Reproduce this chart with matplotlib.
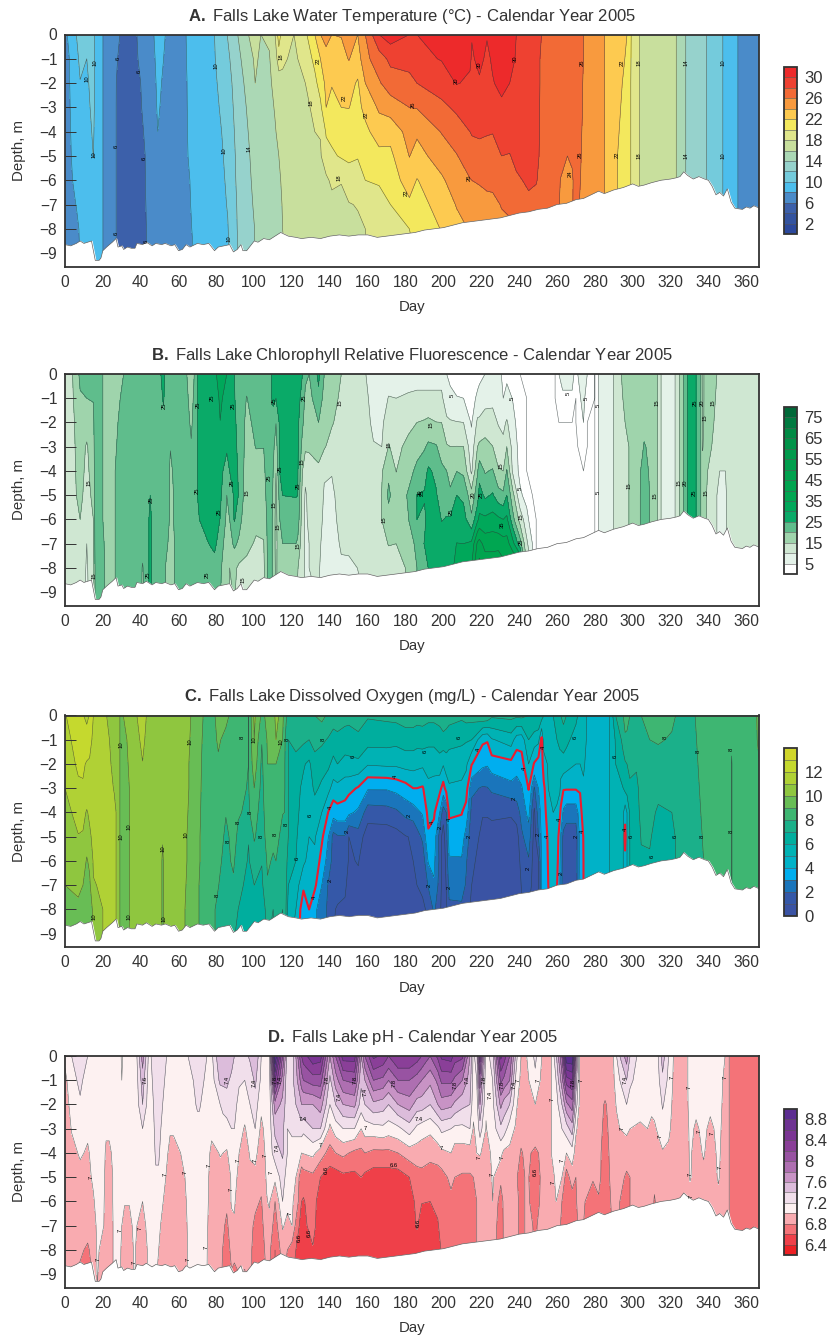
import matplotlib
matplotlib.use('Agg')
import matplotlib.pyplot as plt
import numpy as np

plt.rcParams['font.family'] = ['Liberation Sans', 'DejaVu Sans']
plt.rcParams['mathtext.fontset'] = 'custom'
plt.rcParams['mathtext.bf'] = 'Liberation Sans:bold'
plt.rcParams['mathtext.rm'] = 'Liberation Sans'
plt.rcParams['axes.unicode_minus'] = True

W, H = 828, 1335
depths = [0, -1, -2, -3, -4, -5, -6, -7, -8, -9.6]

# lake bottom
bottom_days = [0,3,6,8,10,12,14,15,16,18,19,20,22,25,27,28,30,31,33,35,37,38,41,43,46,48,51,53,56,58,60,62,64,66,70,73,76,78,79,81,84,87,89,91,93,94,96,98,100,102,105,108,112,114,118,122,125,130,135,140,145,150,155,160,165,170,175,180,185,190,195,200,205,210,215,220,225,230,235,240,245,250,255,260,265,270,274,278,282,285,290,295,300,303,306,310,315,320,323,325,327,329,332,335,338,340,342,344,346,348,350,352,354,358,360,362,364,367]
bottom_depth = [-8.65,-8.7,-8.6,-8.5,-8.6,-8.55,-8.5,-8.9,-9.3,-9.3,-9.2,-8.9,-8.75,-8.55,-8.4,-8.75,-8.7,-8.85,-8.75,-8.8,-8.8,-8.6,-8.65,-8.55,-8.7,-8.6,-8.65,-8.6,-8.7,-8.65,-8.9,-8.85,-8.65,-8.75,-8.6,-8.65,-8.6,-8.8,-8.9,-8.75,-8.7,-8.65,-8.95,-8.85,-8.65,-8.9,-8.9,-8.7,-8.5,-8.55,-8.4,-8.45,-8.25,-8.15,-8.3,-8.35,-8.4,-8.35,-8.4,-8.3,-8.25,-8.3,-8.25,-8.25,-8.35,-8.3,-8.25,-8.2,-8.15,-8.05,-8.0,-7.95,-7.85,-7.75,-7.7,-7.65,-7.6,-7.55,-7.45,-7.35,-7.3,-7.2,-7.15,-7.0,-6.95,-6.8,-6.75,-6.6,-6.45,-6.55,-6.4,-6.3,-6.15,-6.25,-6.2,-6.1,-6.0,-5.95,-5.9,-5.85,-5.65,-5.8,-5.95,-5.85,-5.95,-6.0,-6.25,-6.6,-6.5,-6.65,-6.35,-6.9,-7.15,-7.2,-7.1,-7.15,-7.05,-7.15]

# A. temperature, one row per day, surface to bottom
temp_days = [0,6,8,11.5,15,16,20,27,29,38,43,47,49,53,64,67,79,86,91,97,100.5,103.5,108,111,113,115,121,127,132,135,138,141,146,150,154.7,158.7,166,172,182,186,199,207,214,215,219,223,226,230.7,235,238.5,245,249,251,260,262,265.5,268,270,274,285,292,297,299,303.5,323,328,339,347.6,355.5,367]
temp_values = [
[7.5,7,7,7,7,7,7,7,7,7],
[10,9.6,9.4,9.2,9,8.8,8.5,8.05,7.6,7.5],
[10.6,10.3,9.95,9.6,9.4,9.2,9,8.6,8.2,8],
[11,10,9.7,9.5,9.4,9.3,9.1,8.8,8.4,8.2],
[11,10.9,10.7,10.5,10.2,10.02,9.7,9.3,8.8,8.5],
[9.5]*10,
[8.01]*10,
[6.4,6.2,6.02,6.01,6.01,6.01,6.01,6.01,6.01,6.01],
[6,5.7,5.6,5.5,5.5,5.5,5.5,5.5,5.5,5.5],
[6,5.9,5.6,5.5,5.3,5.3,5.2,5.1,5,5],
[7,6.8,6.6,6.5,6.3,6.1,6.1,6.05,6,5.9],
[8,7.7,7.5,7.4,7.3,7.2,7.1,7,7,7],
[9,8.7,8.4,8.2,8,7.7,7.5,7.4,7.3,7.3],
[8,7.8,7.6,7.5,7.4,7.4,7.4,7.3,7.3,7.3],
[8,7.95,7.9,7.9,7.9,7.9,7.8,7.8,7.7,7.7],
[8.8,8.7,8.5,8.4,8.3,8.2,8.1,8.05,8,7.9],
[10,9.9,9.7,9.5,9.3,9.2,9.1,9,8.9,8.8],
[12.1,11.6,11.2,10.9,10.6,10.4,10.25,10.1,9.9,9.7],
[13.9,13.4,13,12.8,12.6,12.4,12.3,12.1,12,11.9],
[16,15.2,14.7,14.3,14.05,13.8,13.6,13.3,13,12.8],
[16.6,16.3,16,15.4,15,14.8,14.6,14.4,14.1,14],
[16,15.7,15.4,15.2,15,14.9,14.8,14.7,14.6,14.5],
[16.2,15.9,15.7,15.6,15.4,15.2,15,14.9,14.8,14.7],
[18,17,16.5,16.1,15.9,15.8,15.6,15.4,15.1,15],
[21,19,17,16.6,16.3,16,15.8,15.5,15.2,15],
[19,18.3,17.6,17,16.7,16.4,16.2,16.1,16,15.9],
[18,17.6,17.3,17,16.9,16.8,16.6,16.5,16.4,16.3],
[19.6,18.8,18,17.5,17.1,16.9,16.7,16.6,16.5,16.4],
[22,20.5,19.5,18.5,18,17.3,17,16.8,16.7,16.6],
[24,22,20.8,19.6,18.1,17.8,17.3,17,16.9,16.8],
[24.5,23.5,22.5,22,20.2,19.3,17.6,17.2,17,16.9],
[24,23.2,22.1,21.5,20.5,19.7,18.4,17.4,17.1,17],
[24.1,23.3,22.8,22,21,20.2,18.1,17.5,17.2,17.1],
[25.2,24.1,22.6,22.05,21,20.4,19,17.9,17.4,17.3],
[24,23,21.8,21.4,21,20.1,19.3,18.1,17.7,17.6],
[26,25.5,24,22.6,21.5,20.9,20,18.8,18,17.9],
[30,27,25.8,24.3,23,21.4,20.2,19.3,18.4,18.3],
[31,28.5,27,25,22.6,21.6,20.9,20,19,18.8],
[30,29,27.2,26,24.8,24.05,23,21.6,20,19.8],
[30,29.5,28,26.1,24.3,23.3,21.9,21,20.5,20],
[31,30.1,29,27.5,26.1,24.9,23.7,23,22.1,22],
[31.5,31,30.1,28.4,27,25.9,25,24.1,23.5,23],
[31,30.3,29.7,29,28,27,25.9,24.8,24.1,23.8],
[30.1,29.8,29.5,29,28.2,27,26,25,24.2,24],
[31,30.4,29.8,29.2,28.3,27.3,26.2,25.2,24.5,24.3],
[30.1,29.7,29.5,29,28.1,27.5,26.4,25.5,24.9,24.7],
[31,30.2,29.9,29,28.05,27.5,26.5,25.5,25,24.8],
[32,31,30.4,29.7,28.9,28,26.8,26.1,25.5,25],
[31.5,30.8,30,29.5,28.8,27.9,27.2,26.5,25.5,25],
[30,29.8,29.6,29.4,29,28.5,27.7,26.9,26.5,26],
[29.5,29.5,29.4,29.3,29.2,29,28.3,27.6,27,26.5],
[29,29,29,29,28.9,28.6,28.1,27.5,27,27],
[28.05,28,28,27.9,27.9,27.8,27.7,27.5,27.3,27.3],
[27.5,27.5,27.4,27.3,27.2,27.1,26.7,26.3,26.1,26],
[27.5,27.5,27.4,27.3,27.1,26.7,25.9,25.8,25.8,25.8],
[27.5,27.4,27.2,27,26.4,26,25.3,25,25,25],
[27.2,27.2,27.1,27,26.7,26.2,25.8,25.9,25.9,25.9],
[27,27,26.9,26.8,26.7,26.7,26.6,26.4,26.3,26.3],
[26,26,25.9,25.9,25.8,25.7,25.6,25.5,25.4,25.4],
[24.01]*10,
[23.2,23,22.6,22.4,22.2,22,22,22,22,22],
[22,21.7,21.4,21.2,21,20.9,20.8,20.7,20.6,20.6],
[20.1,20.05,20,20,20,20,20,20,20,20],
[18.01]*10,
[16.01]*10,
[14.01]*10,
[12.01]*10,
[10.01]*10,
[8.01]*10,
[6.6]*10,
]
temp_levels = list(range(0, 33, 2))
temp_colors = ['#2b489c','#33539f','#3c60aa','#4a8bc9','#4cbeed','#74cbdc','#96d2cc','#abd8b5','#c8df9d','#e0e68b','#f3e85d','#fdca50','#f89a3e','#f26a36','#ee4131','#ed2a2b']
temp_ticks = [2,6,10,14,18,22,26,30]
temp_labels = [(15.9,-1.15,'10'),(11.9,-1.8,'10'),(15.3,-4.95,'10'),(28,-1,'6'),(27,-4.6,'6'),(27,-8.2,'6'),(39,-1.5,'6'),(42,-5.1,'6'),(43,-8.5,'6'),(80,-1.3,'10'),(84,-4.8,'10'),(86.5,-8.4,'10'),(97,-4.7,'14'),(114,-.9,'18'),(130,-2.8,'18'),(134,-1.1,'22'),(147.5,-2.6,'22'),(159,-3.3,'22'),(145,-5.9,'18'),(180.5,-6.5,'22'),(184,-2.9,'26'),(207,-1.9,'30'),(219,-1.25,'30'),(238,-1,'30'),(213.5,-5.9,'26'),(267,-5.75,'24'),(273.6,-1.15,'26'),(272.5,-4.95,'26'),(294.7,-1.15,'22'),(292,-4.95,'22'),(303.3,-1.15,'18'),(303.3,-5,'18'),(328.2,-1.15,'14'),(328.2,-5,'14'),(347.6,-1.15,'10'),(347.6,-5,'10')]

# B. chlorophyll
chl_days = [0,4,8,11.5,15,16,20,22,26.5,31,39,41,43,45,47,50,52,53,55.7,59,64.3,66.7,68.3,70,71,76,79,80,82,85.5,87,89.5,92,96,101,105,107,108.5,110,111.5,113.5,115,122,123,125.5,127,129,134,137,141,146,150,159,163,167.4,171,175,181.5,186,190,192,196,199,201.7,203.6,207,210.6,214.8,218,219,222,226,229,231.6,233.5,236.5,240.5,244,247,249,259,261,263,268,270,271,274,276,280,282,285.5,289.8,294,298,304,306,307,309,313,315,322.4,324.7,326.8,329,330,333.5,336,337,339,344.5,346,349,351,367]
chl_values = [
[14,13,13,13,13,13,13,13,13,13],
[15,14.5,14,14,14,14,13.5,13,13,13],
[21,19.5,18,17,16.5,16,15,14,13,12],
[22,20,17,14.5,14,13.5,12,10,9.5,9],
[23,20.2,19,18,17,16,15,14,13,13],
[24,23,23,23,23,23,22,22,21,21],
[20,20,20,20,20,20,20,20.5,21,21],
[19]*10,
[18,18.5,19,19.5,20,20,20,20,20,20],
[20,21,22,22.5,23,23,23,23,23,23],
[23]*10,
[23,23,23,23,23,23,23,22,19.5,19],
[23]*10,
[23,23,23,23,23,25,26,26,26,26],
[23]*10,
[24,23.5,23,23,23,23,23,23,23,23],
[27,25.4,24,24,24,24,24,24,23,23],
[24,24,24,24,24,24,24,22,20,20],
[24,24,24,20.2,19,19,19,18,18,18],
[24,24,24,23,22,21,21,21,21,21],
[20.1,21,22,23,24,24,24,24,24,24],
[17,18,19,20.5,22,23,24,24,24,24],
[20,21,22,23,24,24,24,24,24,24],
[24.8,24.9,25,25,25,25,24,23,22.5,22],
[26,26,26,26,26,26,25,24,23,23],
[27,27,27,27,27,27,26,25,24,23],
[28,27,26,26,25.5,25.5,25.5,25.3,24.5,24],
[30,28,27,26,26,26,26,25,23,23],
[33,31,29.9,27,26,26,24.9,22,20.5,20],
[30,28,26,25.5,23.6,20,19,18,18,18],
[30,28,26,25.5,25,21,20,18,15,15],
[25,25.2,25.5,25.7,26,26,25.4,21,16,15],
[23,23.5,24,24.3,24.6,24.8,22,19,14,14],
[22,19.8,18.5,18,17,16.5,16,16,14,13],
[23,22.5,21.5,20.2,18,17,16,14.5,13.5,13],
[23,23,21.5,20.1,18.5,17.5,16,14.8,14,13],
[24,24,24,24,23,22,21,20.5,20,20],
[24,24.5,24.8,25,25,24,24,24,24,24],
[26,25.5,24,21,20,19,18,18,18,18],
[26,25,20.1,18,15.1,14,13.5,13.5,14,14],
[27,27,26,25.1,25.3,22,20,19,18,18],
[27,27,27,27,26,25.05,22,20,18,18],
[28,27.5,27,26,26,25.1,24,20,16,15],
[28,27,26,26,25.5,25,23,19,15.2,14],
[25,23,21,18,15,13,12,12,12,12],
[21,19,17.5,16,11,9.5,9,9,9,9],
[20,18,17,16,12,11,11,10,10,10],
[26,24,20,16,14.5,13,12,11,10.5,10],
[20,18,17,15.5,10.5,9.5,9,8.5,8,8],
[18,17,15.5,13,10.2,9.3,9,8.5,8,8],
[15,14,13,12.5,12,11.5,11,10.4,9.5,9],
[15,14.5,13,13,12,12,11,10.5,9.5,9],
[10,11,11.5,12,12,12,12,12,10.5,10],
[7,8,9,10.3,11.5,12,12,12,12,12],
[7,8,9,10,14.5,15.2,15,13.5,12,12],
[8,10.2,13,15.2,19,21,18,15.2,13,13],
[8,10,13,14,14.9,17,16,15,13.5,13],
[8,10.6,14,16,18.5,20.5,19.9,17,15.5,15],
[8,11,15,18.5,21,25.1,25,21.5,20,20],
[8,11,15.5,19.5,23,25.5,24,25.3,22,22],
[8,11,16,21,25.8,27,27,26.5,25.1,25],
[8,11,15.1,20.5,24,25.5,28,29,28,28],
[8,11,15,18,21,23,24.8,27,28,28],
[5,7,11,15.5,20,23,25.3,27,28,28],
[4,6,10.5,15,18,21,25.5,28,29,29],
[4,5.1,10.2,15.1,19.9,25,27,30.1,31,31],
[3,5,10,15.05,19,24,27,30,33,33],
[2,3,4.5,7,9,17,21,31,35,35],
[3,6,11,15,19.5,22.5,29,41,46,46],
[3.5,7,10.9,16,23,27,31,42,47,50],
[5,8,12.5,16.5,19.5,24,31,38,44,48],
[7,9,11.5,15.1,20.5,25.5,32,38,44,50],
[8,9,9.7,12,15.5,22,31,38,45,48],
[3,5,9,11,15,21,30,37,42,45],
[4,6.5,10.5,15,20.3,25,31,37,42,45],
[3,4.9,7,8.5,9.5,17,22,32,42,45],
[0,1,2,3,3.5,6,13,22,40,40],
[0,0,0,0,0,3,7,11,16,16],
[0,0,0,0,0,0,1,5,9,9],
[0]*10,
[0]*10,
[5,3,0,0,0,0,0,0,0,0],
[6,4.5,0,0,0,0,0,0,0,0],
[6,4.5,0,0,0,0,0,0,0,0],
[4,0,0,0,0,0,0,0,0,0],
[5,4,3,0,0,0,0,0,0,0],
[8,6,5,1,0,0,0,0,0,0],
[5,3,0,0,0,0,0,0,0,0],
[0]*10,
[5]*10,
[8]*10,
[10]*10,
[15,14.5,14,13.5,13,13,13,13,13,13],
[18,17,16,15,15,15,15,15,15,15],
[17,17,17,17,19.8,20,20,20,20,20],
[18,18,18,20.5,22,22.5,22.5,22.5,22.5,22.5],
[17,17,17,20,22,22,22,22,22,22],
[17,17,17,17,19,20,20,20,20,20],
[15]*10,
[10]*10,
[10]*10,
[15]*10,
[20]*10,
[25]*10,
[28]*10,
[25]*10,
[20]*10,
[13,13.5,14,14.8,16,16,16,16,16,16],
[19,18,17.5,17,15.5,15,15,15,15,15],
[15,14.5,14,13,11,10,10,10,10,10],
[14,14,13.5,13,10,9,9,9,9,9],
[13,13,13,13,10,9,9,9,9,9],
[12.5]*10,
[12]*10,
]
chl_levels = list(range(0, 81, 5))
chl_colors = ['#ffffff','#e4f2e9','#cfe7d2','#9fd4ac','#5fbd8c','#0aaa68','#00a85a','#00a651','#00a44f','#00a24e','#009f4d','#009a4b','#009348','#008a44','#007a40','#006838']
chl_ticks = [5,15,25,35,45,55,65,75]
chl_labels = [(52.3,-1.3,'25'),(70.3,-1.25,'25'),(78,-1,'25'),(89,-1.3,'25'),(110.5,-1.1,'25'),(126.5,-1,'25'),(145.4,-1.2,'15'),(125,-3.6,'15'),(113.6,-3.9,'25'),(107.8,-4.3,'25'),(69.8,-4.8,'25'),(88.6,-4.5,'25'),(96.4,-4.9,'15'),(45.8,-5.2,'25'),(12.9,-4.5,'15'),(123,-4.6,'25'),(81.6,-5.7,'25'),(110.5,-5.4,'15'),(112.8,-6.3,'15'),(168.6,-6,'15'),(123,-7.1,'15'),(15.5,-8.3,'15'),(44,-8.3,'25'),(75.2,-8.3,'25'),(94,-8.5,'15'),(204.8,-.9,'5'),(193.7,-2.1,'15'),(171.4,-2.9,'15'),(187.6,-4.9,'20'),(189,-4.9,'25'),(204.3,-5.7,'25'),(215.8,-5,'20'),(220.2,-5,'25'),(231.3,-6.2,'35'),(230.4,-3.8,'15'),(236.6,-1,'5'),(240.4,-4.7,'5'),(240.8,-5.9,'15'),(241,-6.9,'25'),(266,-.8,'5'),(275.7,-1,'5'),(282,-1.3,'5'),(282,-4.9,'5'),(297.9,-4.6,'15'),(312.7,-1.2,'15'),(311.8,-5,'15'),(324.7,-4.5,'15'),(327.8,-4.5,'20'),(332.4,-4.9,'25'),(333.3,-1.2,'25'),(337,-1.2,'20'),(342.6,-1.2,'15'),(338.4,-1.8,'15'),(338.8,-4.9,'15')]

# C. dissolved oxygen
oxy_days = [0,7,9.5,11.5,13,15,20,22,26,27,29,30.8,34,38,41,43,50,51.6,53,63.4,66.5,70.8,73,79.3,81,85,87.5,89,91.5,97,100,104,107,110,111.5,115,116,118,122,126,129,132,135.7,139.2,141.8,144,148,150,155,160,170,175,180,184,186,189,192,195,198,199.9,201.5,203,209.6,212,214.9,220.7,223.2,225.5,235.7,238.7,241.3,245,248,250.2,251.9,253,254.9,255.4,258,260,261.5,262,263.4,265,270,272.2,274,276,285,288,291,295,296,297,298.5,302,304.5,309,313.5,320.7,322.7,328,333,337.5,351,352.3,353.5,365,367]
oxy_values = [
[11.9,11.5,11.3,11,10.6,10.4,10.2,10,10,10],
[13,12.6,12.2,11.8,11.4,10.95,10.6,10.2,9.8,9.5],
[12.1,12.9,12.15,11.9,11.3,10.9,10.5,10,9.6,9.5],
[11.6,12.7,11.9,11.7,10.9,10.5,9.9,9.5,9.3,9.2],
[12.1,12.3,11.9,11.7,11.2,10.8,10.2,9.8,9.5,9.4],
[12,11.8,11.7,11.5,11.4,11.3,11.1,10.95,10.2,10],
[11.7,11.7,11.6,11.5,11.4,11.3,11.2,11.1,11,11],
[11,11.3,11.4,11.4,11.4,11.3,11.3,11.3,11.3,11.3],
[10.4,10.5,10.7,10.95,11.2,11.3,11.3,11.3,11.3,11.3],
[11]*10,
[10]*10,
[10,9.7,9.6,9.6,9.6,9.6,9.6,9.6,9.6,9.6],
[10.3,10.2,10.1,10,10,10,10,10,10,10],
[11,10.6,10.4,10.3,10.3,10.3,10.3,10.3,10.3,10.3],
[11.8,11.4,10.95,10.6,10.5,10.4,10.4,10.4,10.4,10.4],
[11,10.7,10.5,10.4,10.4,10.3,10.3,10.3,10.3,10.3],
[10.5,10.4,10.4,10.3,10.3,10.3,10.3,10.3,10.3,10.3],
[10.5,10.5,10.5,10.4,10.3,10.05,9.9,9.9,9.9,9.9],
[10.5,10.4,10.4,10.3,10.3,10.3,10.3,10.3,10.3,10.3],
[10.5,10.5,10.4,10.4,10.3,10.2,10.2,10.1,10,10],
[10,9.9,9.8,9.8,9.7,9.6,9.6,9.5,9.4,9.4],
[9.3,9.3,9.3,9.2,9.2,9.1,9.1,9,9,9],
[9,8.9,8.8,8.8,8.7,8.7,8.7,8.6,8.6,8.6],
[9,8.9,8.7,8.6,8.5,8.4,8.3,8.2,8,8],
[9.7,9.1,8.9,8.7,8.6,8.5,8.3,8.05,7.7,7.6],
[9.2,8.8,8.7,8.6,8.05,7.8,7.6,7.3,7.1,7],
[8.9,8.7,8.6,8.5,8.3,8.1,8,7.5,7.2,7],
[8.8,8.6,8.5,8.4,8.3,8.2,8.1,7.9,7.2,7],
[8.5,8.4,8.3,8.2,8.05,7.9,7.7,7.3,7,6.9],
[8,8,8,7.95,7.9,7.05,6.9,6.7,6.6,6.6],
[10.2,10,9.6,9,8.4,8.1,7.6,7,7,7],
[8.8,8.05,7.8,7.7,7.6,7.5,7.05,6.8,6.7,6.6],
[9.2,9.1,9,8.8,8.6,8.4,8.15,7.9,7.2,7],
[9.3,9.2,9,8.8,8.5,8.2,7.9,7.5,7,7],
[10.5,10,9,8.8,8.7,8.5,8,7.6,7.2,7],
[9.3,9,8.7,8.6,8.05,7.5,7.4,7.2,7,7],
[8.5,8.2,8.1,8.1,8,8,8,8,8,8],
[7.6,7,7,7,7,7,6.5,6,5.5,5.2],
[7.8,7.2,6.8,6.3,6.2,6.1,6,5.5,5,4.5],
[7.7,7.2,6.1,5.8,5.7,5.5,5.2,4.2,3.3,3.3],
[7.8,7,5.8,5.5,5.1,5,4.7,4.3,4,4],
[8,7.3,6.7,6.2,5.5,5.1,4.8,4.2,3.2,3],
[8.3,7.2,6.4,5.8,5,4.2,3.6,3,2.5,2.4],
[7.8,6.9,6.2,5.3,3.95,3,2.6,1.9,1.8,1.8],
[7.5,6.6,5.7,4.6,3.4,1.7,1.6,1.3,1.05,1],
[7.6,6.7,6,4.7,3.6,1.9,1.5,1.2,.95,.9],
[7.4,6.5,5.7,4.4,3.6,1.9,1.6,1.1,.9,.9],
[7.4,6.4,5.8,4.3,3.2,1,.9,.8,.6,.6],
[7.6,6.7,5.8,3.9,2.8,1.6,1.05,.8,.6,.6],
[7.1,6.4,5.1,3.1,1.5,.4,.3,.3,.2,.2],
[7.2,6.4,5.2,3.1,1.6,.4,.3,.3,.2,.2],
[7.3,6.3,5.2,3.3,1.8,.6,.3,.3,.2,.2],
[7.5,6.5,5.4,3.6,2.3,.95,.4,.3,.2,.2],
[7.5,6.5,5.4,4,2.5,1.1,1,.95,.4,.4],
[7.4,6.4,5.3,4,2.8,1.6,1.1,1,.6,.5],
[7.4,6.5,5.2,3.9,3.1,2.2,1.4,1.1,.9,.8],
[7.3,6.3,5.3,4.8,4.3,3.85,3.1,2.1,1.1,1],
[7.3,6.3,5.3,4.7,4.15,3.6,3.2,2.9,2.2,2],
[7.4,6.5,5.6,4.3,3,1.6,1.8,1.6,1.3,1.2],
[7.6,6.7,5.1,3.6,1.5,.5,.4,.3,.3,.3],
[7.5,6.6,5.5,4.4,2,1.6,1.3,1.05,.9,.8],
[7.4,6.4,5.4,4.9,4.2,3.4,2.9,2.3,1.8,1.8],
[7.2,6.2,5.4,4.8,4.05,3.5,2.9,2.4,1.8,1.8],
[7.4,6.1,5.2,4.5,3.6,2.6,2.1,1.9,1.4,1.3],
[7.4,6,4.05,2.2,1.7,1.4,1.2,1,.8,.7],
[7.9,4.2,3.2,1.9,1.05,.8,.6,.6,.5,.5],
[7.8,4.1,3.1,1.95,1.05,.8,.6,.6,.5,.5],
[7.2,4.9,3.5,2.2,1.1,.8,.6,.6,.5,.5],
[7.3,5.5,3.7,2.7,1.05,.8,.6,.5,.5,.5],
[7.2,4.5,3.3,2.7,1.4,.6,.5,.5,.5,.5],
[7.3,4.4,3.6,2.9,2.4,1.8,1.3,1.05,.9,.8],
[7,6,5,4.05,3.3,2.6,1.9,1.5,1,.9],
[7,5.5,3.9,1.9,.8,.6,.5,.5,.5,.5],
[7,5.3,3.5,3,2.5,2,.9,.8,.7,.7],
[6.5,3.7,3.5,3.4,3.3,3.2,3.1,3.05,3,3],
[6,5.5,4.5,3.8,3.6,3.5,3.4,3.4,3.4,3.4],
[6,5.7,5,4.6,4.3,4,3.8,3.5,3.4,3.4],
[6,5.7,5.2,5,4.7,4.4,4.2,4,3.8,3.8],
[6,5.6,5.3,5.2,5,4.9,4.8,4.7,4.6,4.6],
[6.5,6,5.7,5.2,4.9,4.5,4.3,4.05,4,4],
[7,6.2,5.7,5.2,4.2,3.5,3.3,3,3,3],
[7,6.3,5.6,4.6,3.8,2.9,2.4,2.2,2,2],
[7.3,6.5,5.6,4.1,2.8,1.7,1.7,1.8,1.9,1.9],
[7,6.3,5.4,4.1,2.4,1.5,1.5,1.6,1.6,1.6],
[6.3,5.5,5,4.1,2.4,1.5,1.6,1.6,1.6,1.6],
[5.6,5.3,5,4.1,3.6,3.3,3.2,3.05,3,3],
[5.5,5.3,5.1,4.9,4.5,4.05,4,4,4,4],
[4.9,4.9,4.8,4.8,4.8,4.7,4.7,4.6,4.6,4.6],
[4.9]*10,
[5.01]*10,
[7,6.1,6,5.7,5.5,5.4,5.3,5.3,5.3,5.3],
[8,7.3,6.7,6,5.1,5,5,5,5,5],
[8.7,7.7,6.9,6.3,4.4,3.6,4.3,4.8,4.9,4.9],
[8.5,7.7,7,6.4,5,5,5,5,5,5],
[8,7.7,7.3,6.8,6.1,6,6,6,6,6],
[8,7.6,7.1,6.8,6.7,6.5,6.3,6.3,6.3,6.3],
[8,7.7,7.4,7.3,7.2,7.05,6.9,6.9,6.9,6.9],
[8.3,8,7.5,7.3,7.2,7.1,6.9,6.9,6.9,6.9],
[8.5,8.1,7.6,7.2,6.9,6.6,6.5,6.5,6.5,6.5],
[8.2,7.9,7.5,7.2,7,6.6,6.5,6.5,6.5,6.5],
[8,7.8,7.5,7.3,7.2,7.05,7,7,7,7],
[7.5]*10,
[8,7.9,7.8,7.7,7.6,7.5,7.4,7.4,7.4,7.4],
[8.6,8.5,8.4,8.3,8.2,8.1,8,8,8,8],
[8.6]*10,
[8.6,8.2,7.9,7.9,7.9,7.9,7.9,7.9,7.9,7.9],
[8.6]*10,
[8.8]*10,
[9.5,9.3,9,8.8,8.8,8.8,8.8,8.8,8.8,8.8],
]
oxy_levels = list(range(0, 15))
oxy_colors = ['#3a53a4','#3558a8','#1a75bb','#00aeef','#00b2c8','#00b2b4','#00ae9e','#1bb08a','#3eb672','#68bd55','#8fc63f','#b0d135','#c5d92e','#d0d52a']
oxy_ticks = [0,2,4,6,8,10,12]
oxy_labels = [(29.6,-1.2,'10'),(29.6,-5,'10'),(34,-4.6,'10'),(34,-8.3,'10'),(15.3,-8.3,'10'),(51.6,-5.5,'10'),(52.3,-8.4,'10'),(66,-1.1,'10'),(64,-4.9,'10'),(93.6,-.9,'8'),(100,-1,'10'),(114,-1.1,'10'),(117.5,-1,'8'),(98,-4,'8'),(91.3,-4.4,'8'),(86.3,-5.2,'8'),(80.7,-7.4,'8'),(103.6,-5,'8'),(111,-4.9,'8'),(116.8,-4.5,'8'),(123,-5.9,'6'),(129.5,-4.1,'6'),(136.6,-1,'8'),(152.4,-1.7,'6'),(140,-3.8,'4'),(131.6,-7.5,'4'),(140,-6.8,'2'),(149.4,-4.8,'2'),(174.8,-2.5,'4'),(181.8,-4.1,'2'),(208.4,-.9,'6'),(190.2,-1.5,'6'),(218.4,-1.4,'4'),(243,-2.2,'4'),(252.8,-1.3,'4'),(194.3,-4.4,'4'),(203,-4.3,'4'),(198.5,-4.6,'2'),(213.7,-5,'2'),(237.3,-3.4,'2'),(250,-4.9,'2'),(254.9,-5,'4'),(244.9,-6.3,'2'),(192.3,-7,'2'),(203,-7.1,'2'),(261.2,-4.3,'4'),(270.4,-5,'2'),(273.6,-4.8,'4'),(262.5,-6.5,'2'),(269.5,-.9,'6'),(291,-1.7,'6'),(296,-4.7,'4'),(299,-5,'6'),(310.4,-5.8,'6'),(317,-.9,'8'),(322.4,-5,'6'),(334.5,-1.5,'8'),(336.8,-5,'8'),(352.3,-1.4,'8'),(352.3,-4.8,'8')]

# D. pH
ph_days = [0,3.5,8,12,15,17,20.5,21.7,23.4,25.6,27.7,29,30,31.5,34,36.7,38,41,44,45.5,48,49.5,53.7,55.5,57.3,63.4,65,70,71,75,77.5,82,83.5,85.5,88,89.5,92,95,97.8,100.5,103.7,106.6,108,111,115,117.5,120,122,125,126,131,135,140,143,147,153,156.5,158.5,163,168,171,176,182,186,188.5,193,197,199,204,206,210,214,215.8,217.6,219.3,222.5,226,230.3,232,235,238,239,241,244,248.5,252,257,259.5,262.6,265,268,270,272,274,279,282,285.4,289,291.5,293.2,296.8,298.6,304,307.8,310,311.5,313.5,315.8,319,321.5,328,330.3,333.5,337.5,341,345.3,348.8,351,367]
ph_values = [
[7.05,6.95,6.9,6.88,6.85,6.85,6.85,6.85,6.85,6.85],
[7.2,7.12,7.07,7.01,6.95,6.9,6.88,6.85,6.82,6.8],
[7.35,7.25,7.17,7.1,7.02,6.95,6.9,6.85,6.82,6.75],
[7.2,7.1,7.07,7.03,6.98,6.95,6.9,6.85,6.78,6.7],
[7.1,7.1,7.1,7.08,7.05,7.03,6.98,6.9,6.85,6.8],
[7.1,7.1,7.1,7.1,7.1,7.08,7.06,7.04,7.02,7],
[7.1,7.1,7.1,7.1,7.08,7.05,7.02,7,6.95,6.95],
[7.1,7.1,7.1,7.05,6.95,6.9,6.9,6.9,6.9,6.9],
[7.1,7.1,7.1,7.05,6.95,6.9,6.9,6.9,6.9,6.9],
[7.1,7.1,7.1,7.08,7.05,7.02,7.02,7.01,7.01,7.01],
[7.1,7.1,7.1,7.1,7.1,7.08,7.06,7.04,7.02,7.02],
[7.1,7.1,7.1,7.1,7.1,7.08,7.06,7.04,7.02,7.02],
[6.95,7,7.1,7.1,7.1,7.06,7.03,7,6.98,6.95],
[7.1,7.1,7.1,7.1,7.1,7.05,7.01,6.95,6.9,6.9],
[7.1,7.1,7.1,7.1,7.08,7.05,7.01,6.95,6.92,6.9],
[7.15,7.1,7.1,7.1,7.1,7.08,7.06,7.04,7.02,7.01],
[7.2,7.15,7.12,7.1,7.1,7.08,7.04,7,6.97,6.95],
[7.7,7.5,7.4,7.2,7.1,7.05,7,6.95,6.9,6.9],
[7.2,7.15,7.12,7.1,7.1,7.08,7.06,7.04,7.02,7.02],
[7.2,7.15,7.1,7.1,7.1,7.08,7.06,7.04,7.03,7.03],
[7.4,7.35,7.3,7.25,7.22,7.18,7.1,7.05,7.03,7],
[7.4,7.35,7.3,7.25,7.22,7.18,7.08,7.03,7,6.95],
[7.2,7.15,7.1,7.07,7.03,6.98,6.94,6.9,6.88,6.85],
[7.15,7.1,7.08,7.02,6.95,6.9,6.88,6.86,6.85,6.85],
[7.15,7.1,7.08,7.02,6.95,6.9,6.88,6.86,6.85,6.85],
[7.1,7.1,7.1,7.05,7.03,7,6.95,6.9,6.88,6.87],
[7.2,7.1,7.1,7.1,7.1,7.08,7.06,7.04,7.02,7.01],
[7.35,7.28,7.22,7.15,7.1,7.08,7.06,7.04,7.02,7.01],
[7.35,7.28,7.22,7.15,7.1,7.08,7.06,7.04,7.02,7.01],
[7.2,7.15,7.1,7.1,7.08,7.06,7.05,7.03,7.01,7],
[7.15,7.1,7.08,7.05,6.95,6.9,6.88,6.86,6.85,6.85],
[7.6,7.45,7.2,7.12,7.01,6.95,6.9,6.87,6.85,6.85],
[7.6,7.45,7.25,7.12,7,6.93,6.87,6.84,6.79,6.75],
[7.6,7.45,7.3,7.12,6.98,6.9,6.85,6.75,6.7,6.7],
[7.5,7.35,7.25,7.2,7.1,7.02,7.02,6.95,6.85,6.75],
[7.4,7.3,7.25,7.2,7.18,7.06,7.02,6.98,6.85,6.7],
[7.3,7.22,7.15,7.08,7,6.95,6.9,6.9,6.88,6.75],
[7.3,7.2,7.1,6.98,6.9,6.88,6.87,6.86,6.85,6.75],
[7.45,7.25,7.2,7.1,7.02,6.95,6.9,6.87,6.85,6.85],
[7.6,7.45,7.3,7.2,7.05,6.95,6.85,6.75,6.7,6.7],
[7.2,7.15,7.05,6.95,6.9,6.88,6.78,6.72,6.72,6.7],
[7.15,7.12,7.1,7.08,7.05,7.02,6.99,6.95,6.85,6.8],
[7.15,7.1,7.1,7.1,7.1,7.05,7.02,6.95,6.85,6.8],
[9,8.4,7.7,7.45,7.3,7.05,6.8,6.7,6.6,6.6],
[8,7.7,7.55,7.45,7.43,7.3,7.2,7.02,6.9,6.8],
[7.3,7.25,7.25,7.2,7.2,7.1,7.05,6.95,6.8,6.75],
[7.3,7.35,7.3,7.25,7.1,7.05,7.02,7,6.7,6.6],
[7.6,7.5,7.4,7.25,7.1,7,6.95,6.75,6.6,6.5],
[8.2,7.9,7.6,7.3,7,6.65,6.6,6.5,6.45,6.45],
[8.3,8,7.6,7.25,7.01,6.7,6.58,6.55,6.5,6.5],
[8.55,8.1,7.6,7.4,7.05,6.75,6.72,6.68,6.58,6.5],
[8.5,8.1,7.7,7.4,6.9,6.6,6.45,6.45,6.45,6.45],
[7.6,7.35,7.2,6.95,6.72,6.5,6.45,6.45,6.45,6.45],
[8,7.7,7.4,7.1,6.8,6.5,6.45,6.45,6.45,6.45],
[8.5,8,7.6,7.2,6.85,6.55,6.45,6.45,6.45,6.45],
[8.5,8.05,7.65,7.2,6.75,6.55,6.45,6.45,6.45,6.45],
[7.6,7.45,7.3,7,6.75,6.6,6.45,6.45,6.45,6.45],
[8,7.6,7.4,7.1,6.8,6.55,6.45,6.45,6.45,6.45],
[8.45,8,7.55,7.12,6.75,6.5,6.45,6.45,6.45,6.45],
[8.35,7.95,7.5,7.15,6.75,6.5,6.45,6.45,6.45,6.45],
[8.2,7.8,7.4,7.1,6.75,6.5,6.45,6.45,6.45,6.45],
[8.4,8,7.6,7.15,6.8,6.5,6.45,6.45,6.45,6.45],
[8.4,8,7.7,7.3,6.9,6.6,6.45,6.45,6.45,6.45],
[8.3,7.9,7.5,7.15,6.9,6.72,6.68,6.62,6.5,6.45],
[8.2,7.8,7.5,7.1,6.88,6.75,6.61,6.5,6.45,6.45],
[8,7.65,7.4,7.05,6.85,6.72,6.6,6.5,6.45,6.45],
[8.25,7.85,7.6,7.15,6.9,6.7,6.65,6.58,6.5,6.45],
[8.45,8.05,7.7,7.25,6.95,6.72,6.7,6.68,6.62,6.6],
[8.5,8.05,7.65,7.2,7,6.85,6.75,6.7,6.68,6.65],
[8.3,7.95,7.55,7.15,6.9,6.8,6.72,6.7,6.7,6.7],
[8.25,7.8,7.45,7.15,6.9,6.78,6.72,6.7,6.7,6.7],
[7.6,7.5,7.4,7.2,6.9,6.78,6.75,6.72,6.72,6.72],
[7.15,7.12,7.05,6.98,6.88,6.8,6.78,6.78,6.78,6.75],
[7.3,7.2,7.1,7.05,7,6.85,6.8,6.8,6.8,6.8],
[8.3,7.9,7.6,7.3,7.02,6.85,6.85,6.85,6.85,6.85],
[7.1,7.05,7.02,6.99,6.9,6.85,6.85,6.85,6.85,6.85],
[7.3,7.2,7.15,7.1,7.05,7.02,7,6.95,6.9,6.85],
[8.45,8.05,7.65,7.35,7.05,6.85,6.7,6.65,6.65,6.65],
[8.3,7.95,7.5,7.3,6.95,6.9,6.85,6.85,6.85,6.85],
[8,7.8,7.4,7.1,6.95,6.85,6.85,6.85,6.85,6.85],
[7.4,7.2,7.1,6.98,6.9,6.85,6.85,6.85,6.85,6.85],
[7.2,7.1,7,6.95,6.88,6.8,6.85,6.85,6.85,6.85],
[7,6.95,6.9,6.88,6.78,6.7,6.7,6.7,6.7,6.7],
[7,6.95,6.9,6.88,6.85,6.85,6.85,6.85,6.85,6.85],
[7.25,7.15,7,6.95,6.75,6.65,6.7,6.78,6.79,6.8],
[7,6.95,6.9,6.88,6.85,6.85,6.85,6.85,6.85,6.85],
[7,7,7,7,7,6.98,6.9,6.85,6.85,6.85],
[7.35,7.2,7.1,7.05,7.02,7.01,7,6.95,6.9,6.85],
[8,7.7,7.4,7.2,7.1,7,6.8,6.75,6.75,6.75],
[9,8.3,7.75,7.3,7,6.7,6.65,6.65,6.65,6.65],
[9,8.4,7.9,7.5,7.1,6.9,6.7,6.7,6.7,6.7],
[7.8,7.5,7.3,7.03,6.92,6.8,6.78,6.75,6.75,6.75],
[7,6.98,6.95,6.92,6.9,6.88,6.88,6.85,6.85,6.85],
[6.95,6.92,6.9,6.88,6.87,6.85,6.82,6.8,6.8,6.8],
[6.9,6.9,6.88,6.87,6.85,6.82,6.7,6.7,6.7,6.7],
[6.9,6.9,6.88,6.87,6.85,6.85,6.78,6.72,6.72,6.72],
[6.95,6.9,6.78,6.75,6.72,6.7,6.7,6.7,6.7,6.7],
[6.9,6.9,6.88,6.87,6.86,6.85,6.82,6.8,6.8,6.8],
[7.2,7.1,7.02,6.95,6.9,6.85,6.85,6.85,6.85,6.85],
[7.4,7.2,7.08,7,6.95,6.9,6.8,6.75,6.75,6.75],
[7.7,7.4,7.2,7.02,6.95,6.75,6.75,6.75,6.75,6.75],
[7.4,7.25,7.1,7,6.9,6.8,6.8,6.8,6.8,6.8],
[7.1,7.08,7.05,6.98,6.95,6.9,6.88,6.87,6.87,6.87],
[7.1,7.08,7.05,7,6.95,6.9,6.88,6.87,6.87,6.87],
[7.1,7.08,7.02,6.98,6.93,6.88,6.87,6.87,6.87,6.87],
[7.15,7.1,7.04,6.98,6.93,6.85,6.78,6.78,6.78,6.78],
[7.2,7.15,7.08,7.02,6.95,6.88,6.87,6.87,6.87,6.87],
[7.5,7.35,7.22,7.12,6.98,6.9,6.87,6.87,6.87,6.87],
[7.2,7.15,7.1,7.05,6.95,6.9,6.87,6.87,6.87,6.87],
[7,6.98,6.95,6.92,6.9,6.88,6.87,6.87,6.87,6.87],
[6.9,6.9,6.88,6.87,6.87,6.87,6.87,6.87,6.87,6.87],
[7.1,7.1,7.1,7.05,7.03,7.02,6.9,6.87,6.87,6.87],
[7.1,7.1,7.05,6.97,6.92,6.9,6.87,6.87,6.87,6.87],
[7.1,7.1,7.08,7.05,7.02,6.95,6.9,6.87,6.87,6.87],
[7.1,7.1,7.05,6.95,6.9,6.88,6.87,6.87,6.87,6.87],
[7.1,7.1,7.08,7.06,7.04,7.02,6.95,6.87,6.87,6.87],
[7,6.95,6.93,6.91,6.9,6.88,6.87,6.87,6.87,6.87],
[6.8]*10,
[6.7]*10,
]
ph_levels = [6.2,6.4,6.6,6.8,7.0,7.2,7.4,7.6,7.8,8.0,8.2,8.4,8.6,8.8,9.0]
ph_colors = ['#ed2024','#ef4049','#f47378','#f9abb0','#fdf1f1','#f1dfeb','#dcbcdb','#c893c5','#ae6fb1','#9853a2','#8a3f98','#7b3594','#6e3393','#5c2d91']
ph_ticks = [6.4,6.8,7.2,7.6,8,8.4,8.8]
ph_labels = [(42.3,-1,'7.6'),(86,-1,'7.4'),(100,-1.1,'7.4'),(111,-1,'7.8'),(113.6,-1,'7.4'),(138.7,-1,'7.8'),(153.5,-1,'7.8'),(144.8,-1.7,'7.4'),(158.6,-1.5,'7.4'),(174,-1.1,'7.8'),(112.4,-3.8,'7.4'),(14,-5,'7'),(137.8,-4.7,'6.6'),(124,-7.5,'6.6'),(129,-7.3,'6.6'),(186.8,-6.9,'6.6'),(119,-6.5,'7'),(109,-4.8,'7'),(105.7,-4.1,'7'),(100.4,-4.3,'7'),(91.6,-4.3,'7'),(88,-5.5,'7'),(76.3,-4.5,'7'),(74.9,-7.9,'7'),(63.4,-4.8,'7'),(53,-4.9,'7'),(39.6,-7.1,'7'),(29.4,-7.2,'7'),(65.2,-8.4,'7'),(36.6,-8.5,'7'),(17.6,-8.4,'7'),(206,-1.2,'7.8'),(212.8,-1,'7.4'),(221.4,-1,'7.8'),(224.6,-1.6,'7.4'),(231.3,-1.2,'7.8'),(237.5,-1.2,'7.4'),(239.6,-1,'7'),(231.3,-4.2,'7'),(225.8,-4.9,'7'),(218.8,-4.2,'7'),(248.4,-4.8,'6.6'),(250,-1,'7'),(257.5,-1.8,'7'),(258,-5.2,'7'),(263,-4.3,'7'),(268.6,-1.1,'7.8'),(273,-1,'7'),(296,-1,'7.4'),(294.7,-3,'7'),(314.5,-3.3,'7'),(321,-.9,'7'),(330,-1.3,'7'),(330.3,-4.9,'7'),(330.8,-5.8,'7'),(335.2,-3.1,'7'),(342.3,-3.2,'7'),(346.2,-4.6,'7'),(348.8,-.9,'7')]
ph_flat_labels = [(125.5,-2.6,'7.4'),(173.6,-4.5,'6.6'),(135,-3.7,'7'),(159,-3,'7'),(187,-2.6,'7.4'),(199,-3.8,'7')]

INK = '#333333'


def px_axes(fig, left, top, right, bottom):
    return fig.add_axes([left / W, 1 - bottom / H, (right - left) / W, (bottom - top) / H])


def draw_panel(fig, box, cbar_box, days, values, levels, colors, ticks, title, labels, flat_labels=()):
    ax = px_axes(fig, *box)
    z = np.array(values, dtype=float).T
    cf = ax.contourf(days, depths, z, levels=levels, colors=colors)
    ax.contour(days, depths, z, levels=levels, colors='#2f3a3a', linewidths=0.4, alpha=0.75)
    ax.fill_between(bottom_days, bottom_depth, -10, color='white', zorder=3)
    ax.plot(bottom_days, bottom_depth, color='#555555', lw=0.45, zorder=4)
    for d, y, s in labels:
        ax.text(d, y, s, fontsize=4.2, rotation=90, ha='center', va='center', color='black', zorder=5)
    for d, y, s in flat_labels:
        ax.text(d, y, s, fontsize=4.2, ha='center', va='center', color='black', zorder=5)
    ax.set_xlim(0, 366.6)
    ax.set_ylim(-9.55, 0)
    ax.set_xticks(range(0, 361, 20))
    ax.set_yticks(range(-9, 1))
    ax.tick_params(axis='x', direction='in', length=7.2, width=0.7, color=INK, labelsize=11.2, labelcolor=INK, pad=6)
    ax.tick_params(axis='y', direction='in', length=7.8, width=0.7, color=INK, labelsize=11.2, labelcolor=INK, pad=5.5)
    for s in ax.spines.values():
        s.set_linewidth(1.3)
        s.set_color(INK)
        s.set_zorder(6)
    ax.set_xlabel('Day', fontsize=10.8, color=INK, va='center')
    ax.set_ylabel('Depth, m', fontsize=10.8, color=INK, va='center')
    ax.xaxis.set_label_coords(0.5, -0.175)
    ax.yaxis.set_label_coords(-46 / 693.7, 0.5)
    fig.text(412 / W, 1 - (box[1] - 18.5) / H, title, fontsize=12, color=INK, ha='center', va='center')

    cax = px_axes(fig, *cbar_box)
    cb = fig.colorbar(cf, cax=cax, ticks=ticks, drawedges=True)
    cb.ax.set_yticklabels(['%g' % t for t in ticks])
    cb.ax.tick_params(length=0, labelsize=12, labelcolor=INK, pad=5)
    cb.outline.set_linewidth(1.3)
    cb.outline.set_edgecolor(INK)
    cb.dividers.set_color('#555555')
    cb.dividers.set_linewidth(0.4)
    return ax


fig = plt.figure(figsize=(8.28, 13.35), dpi=100)

draw_panel(fig, (65, 34.5, 758.7, 266.5), (784.5, 67, 797.5, 234), temp_days, temp_values, temp_levels, temp_colors, temp_ticks,
           r'$\mathbf{A.}$ Falls Lake Water Temperature (°C) - Calendar Year 2005', temp_labels)
draw_panel(fig, (65, 374, 758.7, 605.5), (784.5, 407, 797.5, 574), chl_days, chl_values, chl_levels, chl_colors, chl_ticks,
           r'$\mathbf{B.}$ Falls Lake Chlorophyll Relative Fluorescence - Calendar Year 2005', chl_labels)
ax_c = draw_panel(fig, (65, 715.5, 758.7, 947), (784.5, 748, 797.5, 916), oxy_days, oxy_values, oxy_levels, oxy_colors, oxy_ticks,
                  r'$\mathbf{C.}$ Falls Lake Dissolved Oxygen (mg/L) - Calendar Year 2005', oxy_labels)
ax_c.contour(oxy_days, depths, np.array(oxy_values, dtype=float).T, levels=[4], colors='#ed1c2e', linewidths=1.5, zorder=2)
draw_panel(fig, (65, 1056, 758.7, 1287.5), (784.5, 1109, 797.5, 1255), ph_days, ph_values, ph_levels, ph_colors, ph_ticks,
           r'$\mathbf{D.}$ Falls Lake pH - Calendar Year 2005', ph_labels, ph_flat_labels)

fig.savefig('out.png', dpi=100)
